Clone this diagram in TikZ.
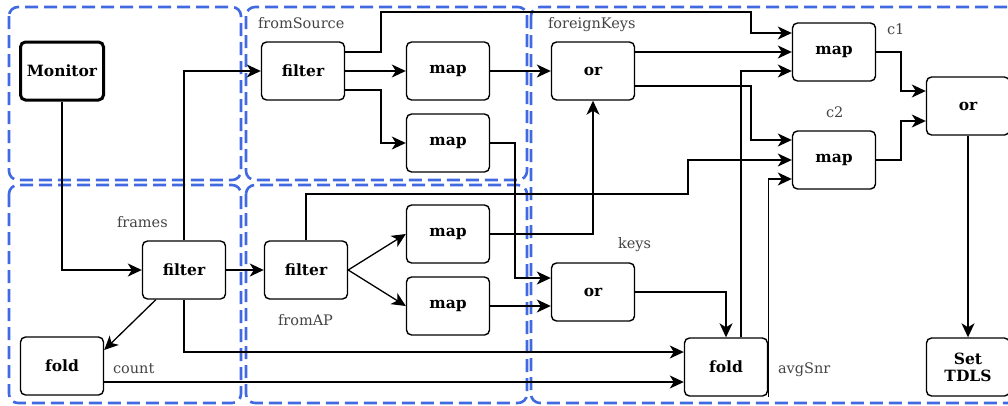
\documentclass[tikz,border=0pt]{standalone}
\usepackage{fontspec}
\setmainfont{DejaVu Serif}
\usetikzlibrary{arrows.meta}

\begin{document}
\begin{tikzpicture}[x=1pt,y=-1pt,
    blk/.style={draw, line width=1.4pt, rounded corners=5pt, fill=white, minimum width=83pt, minimum height=58pt, inner sep=0, align=center, font=\fontsize{15.5}{17}\selectfont\bfseries},
    lbl/.style={inner sep=0, outer sep=0, anchor=base west, text=custcol_gray, font=\fontsize{14.5}{16}\selectfont},
    grp/.style={draw=custcol_blue, line width=2.6pt, dash pattern=on 13pt off 6pt, rounded corners=9pt},
    wire/.style={line width=1.3pt, -{Stealth[length=14pt,width=13pt,inset=4pt]}}]
    \definecolor{custcol_blue}{RGB}{65, 105, 225}
    \definecolor{custcol_gray}{RGB}{68, 68, 68}
    \useasboundingbox (0,0) rectangle (1008,405);
    % groups
    \draw [grp] (9,7) rectangle (241,180);
    \draw [grp] (246,7) rectangle (527,180);
    \draw [grp] (9,185) rectangle (241,403);
    \draw [grp] (246,185) rectangle (527,403);
    \draw [grp] (531,7) rectangle (1020,403);
    % blocks
    \node [blk, line width=3pt] (monitor) at (62,71) {Monitor};
    \node [blk] (frfilter) at (184,270) {filter};
    \node [blk] (countfold) at (62,366) {fold};
    \node [blk] (srcfilter) at (303,71) {filter};
    \node [blk] (srcmapA) at (448,71) {map};
    \node [blk] (srcmapB) at (448,143) {map};
    \node [blk] (apfilter) at (306,270) {filter};
    \node [blk] (apmapA) at (448,234) {map};
    \node [blk] (apmapB) at (448,306) {map};
    \node [blk] (fkor) at (593,71) {or};
    \node [blk] (keysor) at (593,292) {or};
    \node [blk] (snrfold) at (726,367) {fold};
    \node [blk] (cmapA) at (834,52) {map};
    \node [blk] (cmapB) at (834,160) {map};
    \node [blk] (orout) at (968,106) {or};
    \node [blk] (settdls) at (968,367) {Set\\TDLS};
    % labels
    \node [lbl] (lfromsource) at (258,28) {fromSource};
    \node [lbl] (lforeign) at (548,28) {foreignKeys};
    \node [lbl] (lcA) at (887,34) {c1};
    \node [lbl] (lcB) at (826,117) {c2};
    \node [lbl] (lframes) at (117,227) {frames};
    \node [lbl] (lfromap) at (278,325) {fromAP};
    \node [lbl] (lcount) at (113,373) {count};
    \node [lbl] (lkeys) at (618,248) {keys};
    \node [lbl] (lavgsnr) at (778,373) {avgSnr};
    % wires
    \draw [wire] (monitor.south) |- (frfilter.west);
    \draw [wire] (frfilter.north) |- (srcfilter.west);
    \draw [wire] (frfilter.east) -- (apfilter.west);
    \draw [wire] ([xshift=14pt]frfilter.south west) -- ([yshift=16pt]countfold.east);
    \draw [wire] (frfilter.south) |- ([yshift=15pt]snrfold.west);
    \draw [wire] ([yshift=-16pt]countfold.east) -- ([yshift=-16pt]countfold.east -| snrfold.west);
    \draw [wire] ([yshift=19pt]srcfilter.east) -| (381,12) -| (751,33) -- ([yshift=19pt]cmapA.west);
    \draw [wire] (srcfilter) -- (srcmapA);
    \draw [wire] ([yshift=-19pt]srcfilter.east) -| (381,143) -- (srcmapB.west);
    \draw [wire] (srcmapA) -- (fkor);
    \draw [wire] (srcmapB.east) -| (515,278) -- ([yshift=14pt]keysor.west);
    \draw [wire] (apfilter.north) |- (688,194) |- (cmapB.west);
    \draw [wire] (apfilter.east) -- (apmapA.west);
    \draw [wire] (apfilter.east) -- (apmapB.west);
    \draw [wire] (apmapA.east) -| (fkor.south);
    \draw [wire] (apmapB.east) -- (apmapB.east -| keysor.west);
    \draw [wire] (fkor.east |- cmapA.west) -- (cmapA.west);
    \draw [wire] ([yshift=-15pt]fkor.east) -| (751,140) -- ([yshift=20pt]cmapB.west);
    \draw [wire] (keysor.east) -| (snrfold.north);
    \draw [wire] ([xshift=15pt]snrfold.north) |- ([yshift=-19pt]cmapA.west);
    \draw [wire] (snrfold.south east) |- ([yshift=-19pt]cmapB.west);
    \draw [wire] (cmapA.east) -| (901,91) -- ([yshift=15pt]orout.west);
    \draw [wire] (cmapB.east) -| (901,121) -- ([yshift=-15pt]orout.west);
    \draw [wire] (orout) -- (settdls);
\end{tikzpicture}
\end{document}
